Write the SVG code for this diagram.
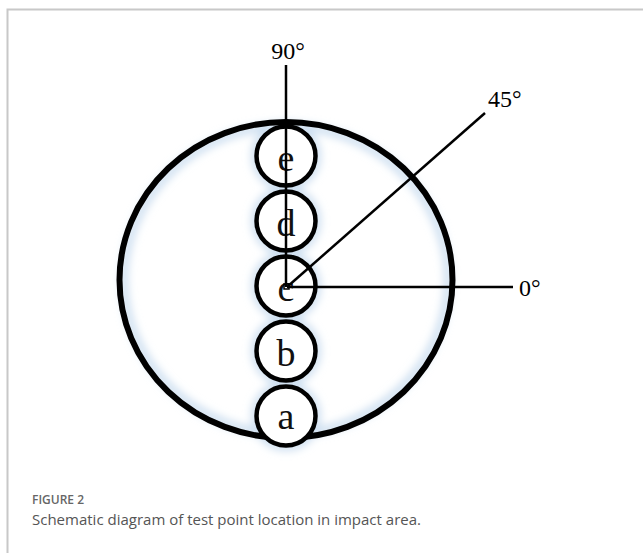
<svg xmlns="http://www.w3.org/2000/svg" width="643" height="553" viewBox="0 0 643 553">
<defs>
<style>
.ln{stroke:#000;stroke-width:2.5;fill:none}
.big{stroke:#000;stroke-width:6;fill:none}
.sm{stroke:#000;stroke-width:4.5;fill:#fff}
.glow{stroke:#c6daee;stroke-width:7;fill:none}
.lbl{font-family:"Liberation Serif",serif;font-size:24px;fill:#000}
.pt{font-family:"Liberation Serif",serif;font-size:38px;fill:#111;text-anchor:middle}
</style>
<filter id="blur" x="-20%" y="-20%" width="140%" height="140%"><feGaussianBlur stdDeviation="4"/></filter>
</defs>
<rect x="0" y="0" width="643" height="553" fill="#fff"/>
<path d="M7.5 553V9.5H643" stroke="#c8c8c8" stroke-width="2" fill="none"/>
<g filter="url(#blur)">
<ellipse class="glow" cx="286" cy="280" rx="162" ry="154"/>
<g class="glow">
<circle cx="286" cy="156" r="31"/><circle cx="286" cy="221" r="31"/><circle cx="286" cy="286" r="31"/><circle cx="286" cy="351" r="31"/><circle cx="286" cy="416" r="31"/>
</g>
</g>
<g id="outer"><ellipse class="big" cx="286" cy="280" rx="166.5" ry="158"/></g>
<g id="point-a"><circle class="sm" cx="286" cy="416" r="29.5"/><text class="pt" x="286" y="429">a</text></g>
<g id="point-b"><circle class="sm" cx="286" cy="351" r="29.5"/><text class="pt" x="286" y="366">b</text></g>
<g id="point-c"><circle class="sm" cx="286" cy="286" r="29.5"/><text class="pt" x="286" y="301">c</text></g>
<g id="point-d"><circle class="sm" cx="286" cy="221" r="29.5"/><text class="pt" x="286" y="236">d</text></g>
<g id="point-e"><circle class="sm" cx="286" cy="156" r="29.5"/><text class="pt" x="286" y="171">e</text></g>
<g id="connectors">
<line class="ln" x1="286" y1="65" x2="286" y2="287"/>
<line class="ln" x1="287" y1="287" x2="513" y2="287"/>
<line class="ln" x1="287" y1="287" x2="485" y2="113"/>
<rect x="284" y="284" width="5" height="5" fill="none" stroke="#000" stroke-width="1.5"/>
</g>
<g id="labels">
<text class="lbl" x="288" y="59" text-anchor="middle">90°</text>
<text class="lbl" x="488" y="107">45°</text>
<text class="lbl" x="519" y="296">0°</text>
</g>
<g id="caption">
<text x="32" y="504" font-family="'Open Sans',sans-serif" font-size="12" font-weight="600" fill="#666">FIGURE 2</text>
<text x="32" y="525" font-family="'Open Sans',sans-serif" font-size="15" fill="#555">Schematic diagram of test point location in impact area.</text>
</g>
</svg>
